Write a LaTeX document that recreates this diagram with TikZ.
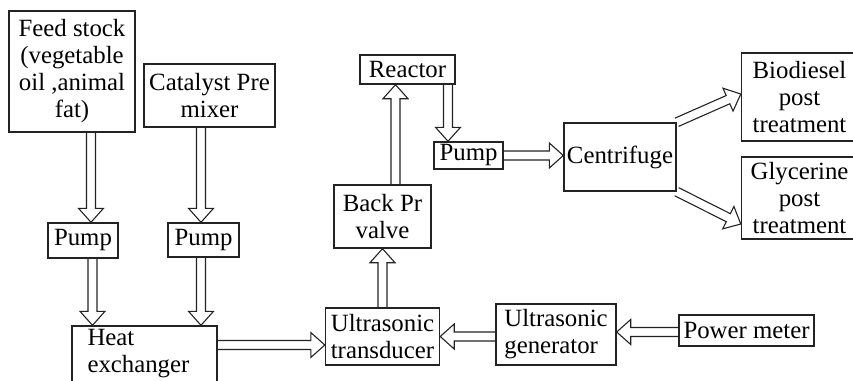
\documentclass[tikz,border=0pt]{standalone}
\usepackage{fontspec}
\setmainfont{Liberation Serif}
\usepackage{tikz}
\usetikzlibrary{calc, positioning}
\definecolor{boxline}{RGB}{35,35,35}
\tikzset{
  txt/.style={font=\fontsize{24.8}{27}\selectfont, inner sep=0pt},
  unit/.style={txt, draw=boxline, line width=1.4pt, align=center},
  harrow/.style={draw=boxline, line width=1.1pt, line join=miter},
}
% hollow block arrow from #1 (tail) to #2 (tip)
\newcommand{\hollowarrow}[2]{%
  \coordinate (hA) at (#1);
  \coordinate (hB) at (#2);
  \coordinate (hC) at ($(hB)!14pt!(hA)$);
  \draw[harrow] ($(hA)!4.5pt!90:(hB)$) -- ($(hC)!4.5pt!90:(hB)$)
    -- ($(hC)!12.5pt!90:(hB)$) -- (hB) -- ($(hC)!12.5pt!-90:(hB)$)
    -- ($(hC)!4.5pt!-90:(hB)$) -- ($(hA)!4.5pt!-90:(hB)$);
}

\begin{document}
\begin{tikzpicture}[x=1pt, y=-1pt]
  \useasboundingbox (0,0) rectangle (853,380);
  \clip (0,0) rectangle (853,380);

  % feed lines
  \node[unit, minimum width=126, minimum height=121] (feed) at (72,71.5)
    {Feed stock\\(vegetable\\oil ,animal\\fat)};
  \node[unit, minimum width=131, minimum height=63] (catalyst) at (209.5,95.5)
    {Catalyst Pre\\mixer};
  \node[unit, minimum width=70, minimum height=35] (pumpA) at (83,240.5) {Pump};
  \node[unit, minimum width=71, minimum height=34] (pumpB) at (203.5,240) {Pump};
  \node[unit, minimum width=145, minimum height=94] (heat) at (144.5,373) {};
  \node[txt, align=left, anchor=north west] (heattext)
    at ($(heat.north west)+(16,4)$) {Heat\\exchanger};

  % ultrasonic section
  \node[unit, align=left, minimum width=114, minimum height=57] (trans) at (382.5,336.5)
    {Ultrasonic\\transducer};
  \node[unit, align=left, minimum width=120, minimum height=61] (gen) at (556,334.5)
    {Ultrasonic\\generator};
  \node[unit, minimum width=135, minimum height=31] (power) at (746.5,330.5) {Power meter};
  \node[unit, minimum width=97, minimum height=63] (back) at (382.5,216.5) {Back Pr\\valve};

  % reactor and separation
  \node[unit, minimum width=95, minimum height=29] (reactor) at (407.5,69.5) {Reactor};
  \node[unit, minimum width=69, minimum height=27] (pumpC) at (468.5,155.5) {Pump};
  \node[unit, minimum width=112, minimum height=68] (centri) at (620,157) {Centrifuge};
  \node[unit, minimum width=116, minimum height=88] (bio) at (799.5,97)
    {Biodiesel\\post\\treatment};
  \node[unit, minimum width=116, minimum height=82] (gly) at (799.5,198)
    {Glycerine\\post\\treatment};

  % block arrows
  \hollowarrow{$(feed.south)+(19,0)$}{$(pumpA.north)+(8,0)$}
  \hollowarrow{$(catalyst.south)+(-8.5,0)$}{$(pumpB.north)+(-2.5,0)$}
  \hollowarrow{$(pumpA.south)+(9.5,0)$}{$(heat.north)+(-52,0)$}
  \hollowarrow{$(pumpB.south)+(-2.5,0)$}{$(heat.north)+(56.5,0)$}
  \hollowarrow{$(heat.east)+(0,-28)$}{$(trans.west)+(0,8.5)$}
  \hollowarrow{trans.north}{back.south}
  \hollowarrow{$(back.north)+(13,0)$}{$(reactor.south)+(-12,0)$}
  \hollowarrow{$(reactor.south)+(40.5,0)$}{$(pumpC.north)+(-20.5,0)$}
  \hollowarrow{pumpC.east}{centri.west |- pumpC.east}
  \hollowarrow{centri.north east}{$(bio.west)+(0,-3)$}
  \hollowarrow{centri.south east}{$(gly.west)+(0,26)$}
  \hollowarrow{$(power.west)+(0,1.5)$}{$(gen.east)+(0,-2.5)$}
  \hollowarrow{$(gen.west)+(0,2)$}{trans.east}
\end{tikzpicture}
\end{document}
